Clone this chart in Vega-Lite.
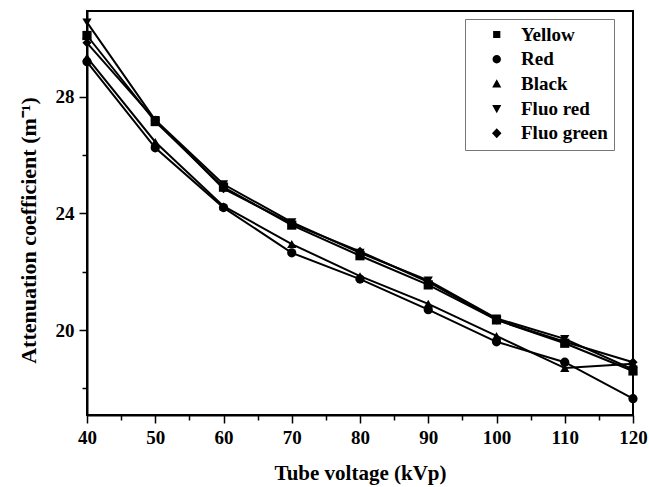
{
  "$schema": "https://vega.github.io/schema/vega-lite/v6.json",
  "width": 546,
  "height": 404,
  "autosize": "none",
  "padding": {"left": 87, "top": 11, "right": 16, "bottom": 72},
  "background": "white",
  "config": {
    "view": {"stroke": "black", "strokeWidth": 2},
    "font": "Liberation Serif"
  },
  "data": {
    "values": [
      {"v": 40, "c": 30.1, "s": "Yellow"},
      {"v": 50, "c": 27.15, "s": "Yellow"},
      {"v": 60, "c": 24.9, "s": "Yellow"},
      {"v": 70, "c": 23.6, "s": "Yellow"},
      {"v": 80, "c": 22.55, "s": "Yellow"},
      {"v": 90, "c": 21.55, "s": "Yellow"},
      {"v": 100, "c": 20.35, "s": "Yellow"},
      {"v": 110, "c": 19.55, "s": "Yellow"},
      {"v": 120, "c": 18.6, "s": "Yellow"},
      {"v": 40, "c": 29.2, "s": "Red"},
      {"v": 50, "c": 26.25, "s": "Red"},
      {"v": 60, "c": 24.2, "s": "Red"},
      {"v": 70, "c": 22.65, "s": "Red"},
      {"v": 80, "c": 21.75, "s": "Red"},
      {"v": 90, "c": 20.7, "s": "Red"},
      {"v": 100, "c": 19.6, "s": "Red"},
      {"v": 110, "c": 18.9, "s": "Red"},
      {"v": 120, "c": 17.65, "s": "Red"},
      {"v": 40, "c": 29.35, "s": "Black"},
      {"v": 50, "c": 26.45, "s": "Black"},
      {"v": 60, "c": 24.25, "s": "Black"},
      {"v": 70, "c": 22.95, "s": "Black"},
      {"v": 80, "c": 21.85, "s": "Black"},
      {"v": 90, "c": 20.9, "s": "Black"},
      {"v": 100, "c": 19.8, "s": "Black"},
      {"v": 110, "c": 18.7, "s": "Black"},
      {"v": 120, "c": 18.85, "s": "Black"},
      {"v": 40, "c": 30.55, "s": "Fluo red"},
      {"v": 50, "c": 27.2, "s": "Fluo red"},
      {"v": 60, "c": 25.0, "s": "Fluo red"},
      {"v": 70, "c": 23.7, "s": "Fluo red"},
      {"v": 80, "c": 22.65, "s": "Fluo red"},
      {"v": 90, "c": 21.7, "s": "Fluo red"},
      {"v": 100, "c": 20.4, "s": "Fluo red"},
      {"v": 110, "c": 19.7, "s": "Fluo red"},
      {"v": 120, "c": 18.65, "s": "Fluo red"},
      {"v": 40, "c": 29.85, "s": "Fluo green"},
      {"v": 50, "c": 27.2, "s": "Fluo green"},
      {"v": 60, "c": 24.85, "s": "Fluo green"},
      {"v": 70, "c": 23.65, "s": "Fluo green"},
      {"v": 80, "c": 22.7, "s": "Fluo green"},
      {"v": 90, "c": 21.65, "s": "Fluo green"},
      {"v": 100, "c": 20.35, "s": "Fluo green"},
      {"v": 110, "c": 19.6, "s": "Fluo green"},
      {"v": 120, "c": 18.9, "s": "Fluo green"}
    ]
  },
  "encoding": {
    "x": {
      "field": "v", "type": "quantitative",
      "scale": {"domain": [40, 120], "nice": false, "zero": false},
      "axis": {
        "title": "Tube voltage (kVp)",
        "values": [40,45,50,55,60,65,70,75,80,85,90,95,100,105,110,115,120],
        "labelExpr": "datum.value % 10 === 0 ? datum.label : ''",
        "tickSize": {"condition": {"test": "datum.value % 10 === 0", "value": 8}, "value": 5},
        "grid": false, "domainColor": "black", "domainWidth": 2,
        "tickColor": "black", "tickWidth": 1.5,
        "labelFont": "Liberation Serif", "labelFontWeight": "bold", "labelFontSize": 19, "labelColor": "black",
        "labelPadding": 5, "labelFlush": false,
        "titleFont": "Liberation Serif", "titleFontWeight": "bold", "titleFontSize": 21, "titleColor": "black",
        "titlePadding": 15
      }
    },
    "y": {
      "field": "c", "type": "quantitative",
      "scale": {"domain": [17.09, 30.94], "nice": false, "zero": false},
      "axis": {
        "title": "Attenuation coefficient (m⁻¹)",
        "values": [18,20,22,24,26,28,30],
        "labelExpr": "datum.value % 4 === 0 ? datum.label : ''",
        "tickSize": {"condition": {"test": "datum.value % 4 === 0", "value": 8}, "value": 5},
        "grid": false, "domainColor": "black", "domainWidth": 2,
        "tickColor": "black", "tickWidth": 1.5,
        "labelFont": "Liberation Serif", "labelFontWeight": "bold", "labelFontSize": 19, "labelColor": "black",
        "labelPadding": 5,
        "titleFont": "Liberation Serif", "titleFontWeight": "bold", "titleFontSize": 22, "titleColor": "black",
        "titlePadding": 15,
        "titleY": 219
      }
    }
  },
  "resolve": {"scale": {"shape": "independent"}},
  "layer": [
    {
      "mark": {"type": "line", "color": "black", "strokeWidth": 2},
      "encoding": {"detail": {"field": "s"}}
    },
    {
      "mark": {"type": "point", "filled": true, "color": "black", "opacity": 1, "size": 85},
      "encoding": {
        "shape": {
          "field": "s", "type": "nominal",
          "scale": {
            "domain": ["Yellow", "Red", "Black", "Fluo red", "Fluo green"],
            "range": ["square", "circle", "triangle-up", "triangle-down", "diamond"]
          },
          "legend": null
        }
      }
    },
    {
      "mark": {"type": "point", "filled": true, "fill": "black", "stroke": "black", "strokeWidth": 1.5, "opacity": 0, "size": 64},
      "encoding": {
        "shape": {
          "field": "s", "type": "nominal",
          "scale": {
            "domain": ["Yellow", "Red", "Black", "Fluo red", "Fluo green"],
            "range": [
              "M-1.94,0H9.8M3.16,-0.9H4.96V0.9H3.16Z",
              "M-1.94,0H9.8M5.11,0A1.05,1.05,0,1,1,3.01,0A1.05,1.05,0,1,1,5.11,0Z",
              "M-1.94,0H9.8M4.06,-1.15L5.2,0.9L2.92,0.9Z",
              "M-1.94,0H9.8M4.06,1.15L5.2,-0.9L2.92,-0.9Z",
              "M-1.94,0H9.8M4.06,-1.25L5.25,0L4.06,1.25L2.87,0Z"
            ]
          },
          "legend": {
            "title": null,
            "orient": "none",
            "legendX": 378,
            "legendY": 8,
            "strokeColor": "#777",
            "fillColor": "white",
            "padding": 6,
            "rowPadding": 4.7,
            "labelFont": "Liberation Serif", "labelFontWeight": "bold", "labelFontSize": 19, "labelColor": "black",
            "labelOffset": 31,
            "symbolSize": 64,
            "symbolOpacity": 1,
            "symbolFillColor": "black", "symbolStrokeColor": "black", "symbolStrokeWidth": 1.5,
            "encode": {
              "symbols": {
                "stroke": {"value": "black"},
                "strokeWidth": {"value": 1.5},
                "fill": {"value": "black"}
              }
            }
          }
        }
      }
    }
  ]
}
